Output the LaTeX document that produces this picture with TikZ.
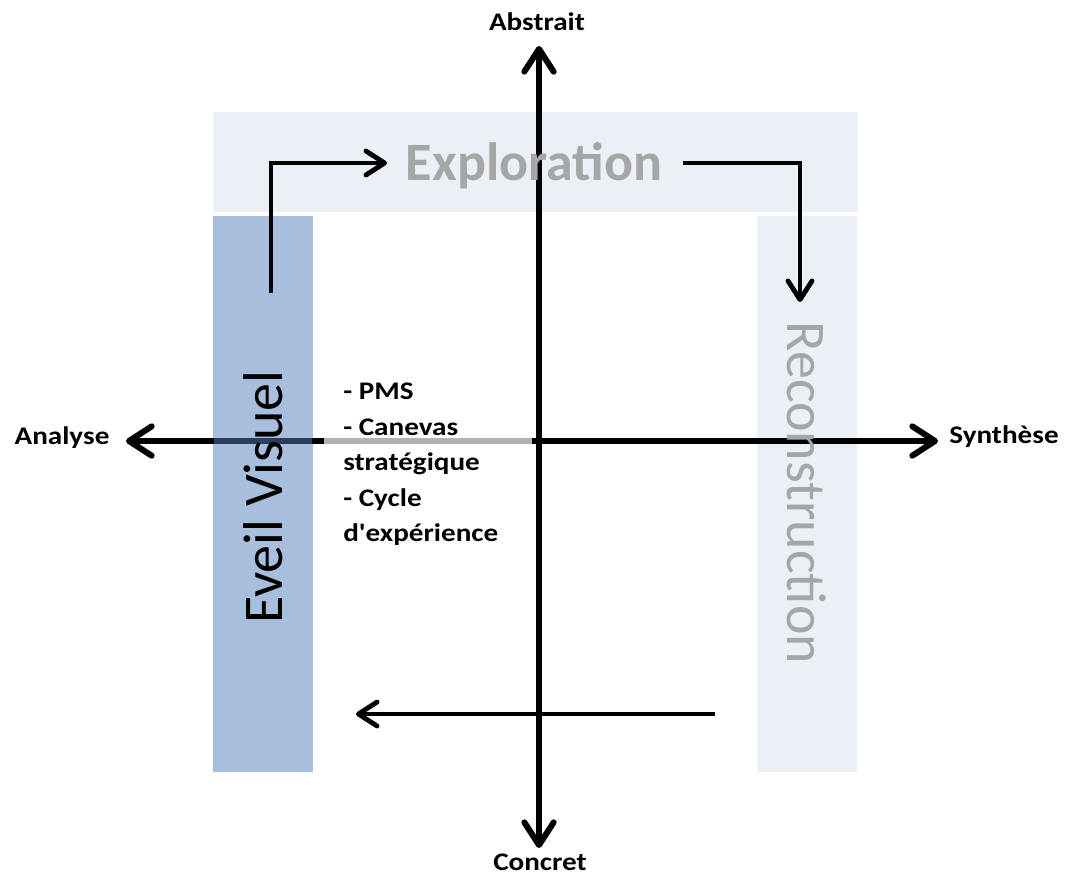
\documentclass[tikz,border=0pt]{standalone}
\usepackage{fontspec}
\setmainfont{Carlito}[Ligatures=TeXOff]
\usetikzlibrary{arrows.meta}

\definecolor{bandlight}{RGB}{235,240,247}
\definecolor{bandblue}{RGB}{167,190,221}
\definecolor{phasegray}{RGB}{166,166,166}
\definecolor{axisnavy}{RGB}{44,62,92}
\definecolor{axisgray}{RGB}{178,178,178}

\tikzset{
  axis/.style={line width=4.5pt, line cap=round,
    {Straight Barb[length=17pt,width=22pt,round]}-{Straight Barb[length=17pt,width=22pt,round]}},
  flow/.style={line width=3.6pt, line join=miter,
    -{Straight Barb[length=14pt,width=18pt,round]}},
  pole/.style={font=\bfseries\fontsize{19pt}{23pt}\selectfont, xscale=1.15, inner sep=0pt},
  phase/.style={font=\fontsize{42pt}{50pt}\selectfont, inner sep=0pt},
  tools/.style={font=\bfseries\fontsize{19pt}{26.6pt}\selectfont, xscale=1.15,
    align=left, inner sep=0pt},
}

\begin{document}
\begin{tikzpicture}[x=0.75pt,y=-0.75pt]
  \useasboundingbox (0,0) rectangle (1066,876);

  % phase bands
  \fill[bandlight] (213,112) rectangle (858,212);
  \fill[bandblue]  (213,216) rectangle (313,772);
  \fill[bandlight] (757,216) rectangle (857,772);

  % axis end points
  \coordinate (north) at (539,46);
  \coordinate (south) at (539,848);
  \coordinate (west)  at (126,441);
  \coordinate (east)  at (938,441);

  % the two axes
  \draw[axis] (west) -- (east);
  \draw[axis] (north) -- (south);

  % tinted parts of the horizontal axis
  \coordinate (h1) at (214,441);
  \coordinate (h2) at (312,441);
  \coordinate (h3) at (324,441);
  \coordinate (h4) at (532,441);
  \draw[axisnavy, line width=4.5pt] (h1) -- (h2);
  \draw[axisgray, line width=4.5pt] (h3) -- (h4);

  % pole labels
  \node[pole] (abs) at (537,22)  {Abstrait};
  \node[pole] (con) at (540,862) {Concret};
  \node[pole] (ana) at (62,438)  {Analyse};
  \node[pole] (syn) at (1004,437) {Synthèse};

  % phase titles
  \node[phase, font=\bfseries\fontsize{40.5pt}{48pt}\selectfont, text=phasegray,
        anchor=base] (explo) at (534,180) {Exploration};
  \node[phase, rotate=90, anchor=base] (eveil) at (282,497) {Eveil Visuel};
  \node[phase, rotate=-90, anchor=base, text=phasegray] (recon) at (787,493) {Reconstruction};

  % tool list
  \node[tools, anchor=north west] (list) at (343,383)
    {- PMS\\- Canevas\\stratégique\\- Cycle\\d'expérience};

  % cycle arrows
  \coordinate (a1) at (271,293);
  \coordinate (a2) at (387,163);
  \coordinate (b1) at (683,163);
  \coordinate (b2) at (800,302);
  \coordinate (c1) at (715,714);
  \coordinate (c2) at (356,714);
  \draw[flow] (a1) |- (a2);
  \draw[flow] (b1) -| (b2);
  \draw[flow] (c1) -- (c2);
\end{tikzpicture}
\end{document}
